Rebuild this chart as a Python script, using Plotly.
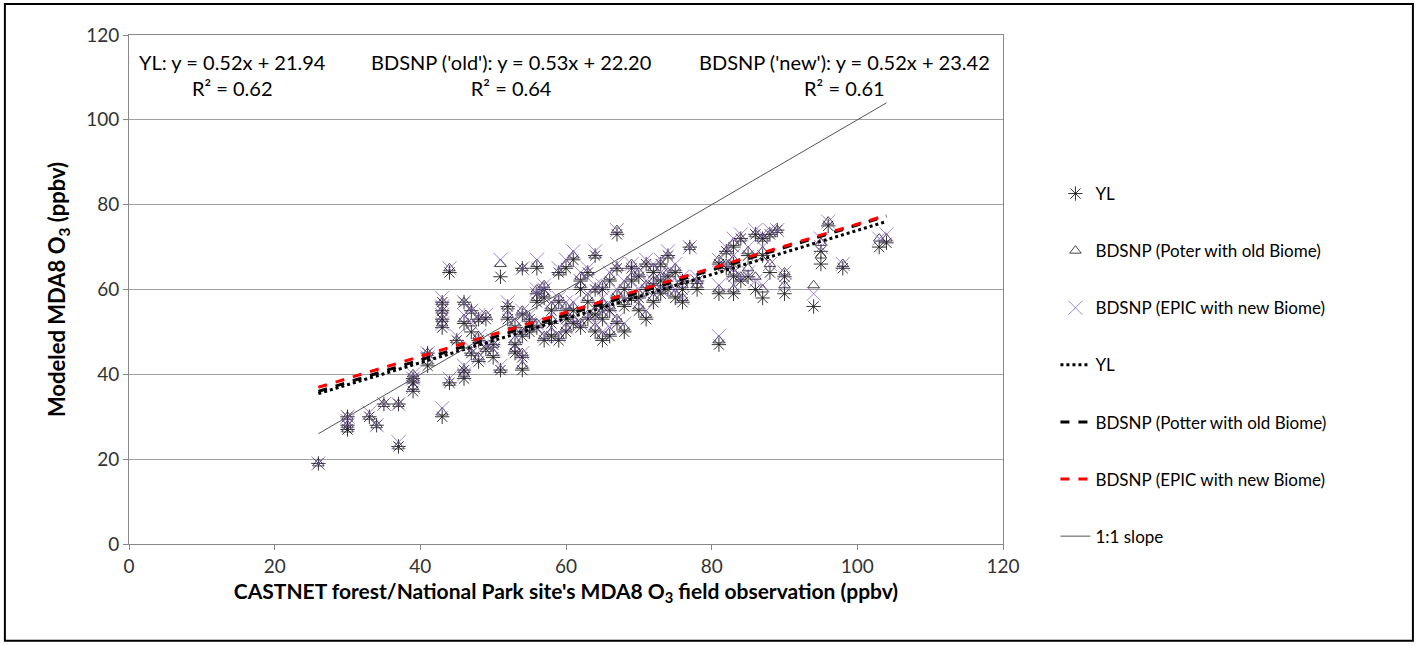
import plotly.graph_objects as go

# CASTNET observed MDA8 O3 (ppbv) per site
obs = [26, 30, 30, 30, 33, 34, 35, 37, 37, 39, 39, 39, 41, 41, 43, 43, 43, 43, 43, 44,
       44, 45, 46, 46, 46, 46, 47, 47, 47, 48, 48, 48, 49, 49, 50, 50, 51, 51, 52, 52,
       53, 53, 53, 54, 54, 54, 54, 54, 55, 55, 56, 56, 56, 56, 57, 57, 57, 58, 58, 58,
       59, 59, 59, 60, 60, 60, 60, 61, 61, 61, 62, 62, 62, 63, 63, 63, 64, 64, 64, 64,
       65, 65, 65, 65, 66, 66, 66, 67, 67, 67, 67, 68, 68, 68, 69, 69, 69, 70, 70, 70,
       71, 71, 71, 72, 72, 72, 73, 73, 73, 74, 74, 74, 75, 75, 76, 76, 76, 77, 78, 78,
       81, 81, 81, 82, 82, 83, 83, 83, 83, 84, 84, 85, 85, 86, 86, 87, 87, 87, 88, 88,
       89, 90, 90, 94, 95, 95, 96, 98, 103, 104]

# modeled MDA8 O3 (ppbv)
yl_model = [19, 30, 28, 27, 30, 28, 33, 33, 23, 36, 38, 39, 42, 45, 57, 55, 53, 51, 30, 64,
            38, 48, 57, 52, 39, 41, 55, 50, 45, 48, 43, 53, 53, 46, 47, 44, 63, 41, 56, 53,
            51, 47, 45, 65, 54, 41, 44, 49, 53, 50, 65, 59, 57, 51, 58, 60, 48, 55, 49, 52,
            57, 48, 64, 50, 53, 55, 65, 67, 52, 55, 62, 60, 51, 64, 57, 53, 68, 60, 54, 50,
            53, 48, 56, 60, 49, 55, 62, 73, 65, 58, 52, 56, 60, 50, 65, 62, 58, 63, 58, 55,
            66, 60, 53, 64, 61, 57, 66, 62, 59, 68, 63, 60, 64, 58, 62, 60, 57, 70, 60, 62,
            59, 66, 47, 69, 65, 70, 66, 63, 59, 72, 62, 68, 63, 73, 60, 72, 68, 58, 73, 64,
            74, 63, 59, 56, 66, 69, 75, 65, 70, 71]

old_model = [19, 30, 28, 27, 30, 28, 33, 33, 23, 37, 39, 40, 43, 45, 57, 55, 53, 52, 31, 65,
             38, 48, 57, 53, 40, 41, 55, 52, 45, 49, 44, 53, 54, 46, 47, 45, 66, 41, 56, 54,
             52, 48, 46, 65, 55, 42, 45, 50, 53, 51, 66, 60, 58, 52, 59, 61, 49, 56, 50, 53,
             58, 49, 64, 51, 54, 56, 66, 68, 53, 56, 63, 61, 52, 64, 58, 54, 68, 60, 55, 51,
             54, 49, 57, 61, 50, 56, 63, 74, 65, 59, 53, 57, 61, 51, 66, 63, 58, 64, 59, 56,
             66, 61, 54, 65, 62, 58, 66, 63, 60, 68, 64, 61, 65, 59, 62, 61, 58, 70, 61, 62,
             60, 67, 48, 69, 66, 71, 67, 64, 60, 72, 63, 69, 65, 73, 63, 72, 69, 60, 73, 66,
             74, 64, 61, 61, 68, 71, 76, 66, 72, 72]

new_model = [19, 30, 29, 28, 31, 28, 33, 33, 24, 37, 39, 40, 44, 45, 58, 56, 54, 52, 32, 65,
             39, 49, 57, 54, 40, 42, 55, 52, 46, 49, 44, 54, 54, 47, 48, 46, 67, 42, 57, 54,
             53, 49, 46, 65, 55, 43, 45, 50, 54, 52, 67, 60, 59, 52, 60, 61, 49, 57, 51, 54,
             58, 49, 65, 51, 55, 57, 67, 69, 53, 57, 64, 62, 52, 65, 59, 54, 69, 61, 56, 52,
             55, 50, 58, 61, 51, 56, 64, 74, 66, 60, 53, 58, 62, 52, 66, 64, 59, 64, 60, 57,
             67, 62, 55, 66, 62, 59, 67, 64, 60, 69, 64, 61, 66, 60, 63, 61, 58, 70, 62, 63,
             61, 67, 49, 70, 66, 72, 68, 64, 61, 73, 63, 70, 64, 74, 62, 73, 70, 61, 74, 66,
             74, 64, 61, 59, 70, 72, 76, 66, 72, 73]

# linear fits shown in the chart
fit_names = ["YL", "BDSNP (Potter with old Biome)", "BDSNP (EPIC with new Biome)"]
fit_slopes = [0.52, 0.53, 0.52]
fit_intercepts = [21.94, 22.20, 23.42]
fit_r2 = [0.62, 0.64, 0.61]
fit_labels = ["YL", "BDSNP ('old')", "BDSNP ('new')"]
x_span = [26, 104]

font = "Lato, 'Open Sans', sans-serif"

fig = go.Figure()

fig.add_trace(go.Scatter(
    x=obs, y=yl_model, mode="markers", name="YL",
    marker=dict(symbol="asterisk-open", size=12, color="rgba(30,30,30,0.9)",
                line=dict(width=1, color="rgba(30,30,30,0.9)")),
    legendgroup="a"))
fig.add_trace(go.Scatter(
    x=obs, y=old_model, mode="markers", name="BDSNP (Poter with old Biome)",
    marker=dict(symbol="triangle-up-open", size=10, color="rgba(40,40,40,0.85)",
                line=dict(width=1, color="rgba(40,40,40,0.85)")),
    legendgroup="b"))
fig.add_trace(go.Scatter(
    x=obs, y=new_model, mode="markers", name="BDSNP (EPIC with new Biome)",
    marker=dict(symbol="x-thin-open", size=14, color="rgba(130,90,195,0.75)",
                line=dict(width=1, color="rgba(130,90,195,0.75)")),
    legendgroup="c"))

line_styles = [dict(color="black", width=3, dash="dot"),
               dict(color="black", width=3, dash="dash"),
               dict(color="red", width=3, dash="dash")]
for i in range(3):
    xs = x_span
    ys = [fit_slopes[i] * v + fit_intercepts[i] for v in xs]
    fig.add_trace(go.Scatter(x=xs, y=ys, mode="lines", name=fit_names[i],
                             line=line_styles[i], legendgroup="l%d" % i))

fig.add_trace(go.Scatter(x=x_span, y=x_span, mode="lines", name="1:1 slope",
                         line=dict(color="#555555", width=1), legendgroup="s"))

# equation annotations
eq_x = [0.118, 0.437, 0.819]
for i in range(3):
    fig.add_annotation(
        x=eq_x[i], y=0.921, xref="paper", yref="paper", showarrow=False,
        xanchor="center", yanchor="middle",
        text="%s: y = %.2fx + %.2f<br>R² = %.2f" % (fit_labels[i], fit_slopes[i],
                                                   fit_intercepts[i], fit_r2[i]),
        font=dict(family=font, size=20, color="black"), align="center")

# outer frame of the picture
fig.add_shape(type="rect", xref="paper", yref="paper",
              x0=-0.142, x1=1.469, y0=-0.19, y1=1.061,
              line=dict(color="black", width=2))

fig.update_layout(
    width=1418, height=645,
    margin=dict(l=129, r=415, t=35, b=101),
    plot_bgcolor="white", paper_bgcolor="white",
    font=dict(family=font, size=19, color="#333333"),
    showlegend=True,
    legend=dict(x=1.06, y=0.723, xanchor="left", yanchor="top",
                font=dict(family=font, size=17, color="black"),
                tracegroupgap=32, bgcolor="rgba(0,0,0,0)"),
    xaxis=dict(range=[0, 120], dtick=20, showgrid=False, zeroline=False,
               showline=True, linecolor="#888888", mirror=True,
               ticks="outside", ticklen=5, tickcolor="#888888",
               title=dict(text="<b>CASTNET forest/National Park site's MDA8 O<sub>3</sub> field observation (ppbv)</b>",
                          font=dict(size=21, color="black"), standoff=8)),
    yaxis=dict(range=[0, 120], dtick=20, showgrid=True, gridcolor="#a0a0a0",
               zeroline=False, showline=True, linecolor="#888888", mirror=True,
               ticks="outside", ticklen=5, tickcolor="#888888",
               title=dict(text="<b>Modeled MDA8 O<sub>3</sub> (ppbv)</b>",
                          font=dict(size=22, color="black"), standoff=14)),
)

fig.write_html("out.html", config={"displayModeBar": False},
               post_script="document.body.style.margin='0px';")
